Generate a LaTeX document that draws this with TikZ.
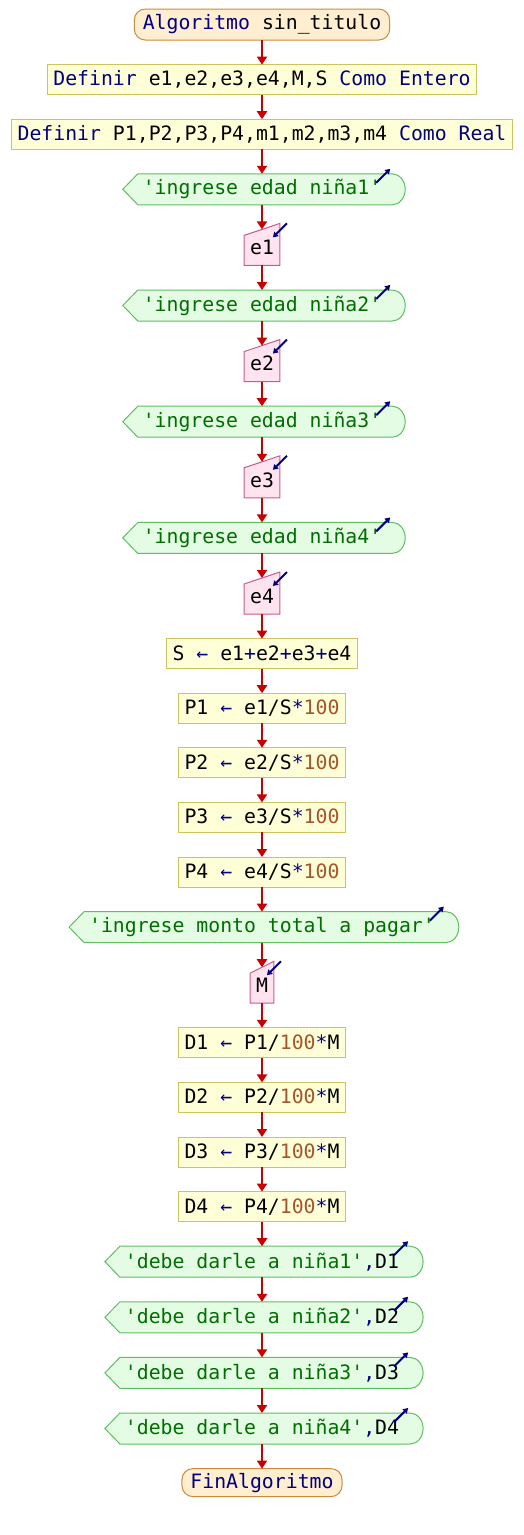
\documentclass[tikz,border=0pt]{standalone}
\usepackage{fontspec}
\setmonofont{DejaVu Sans Mono}
\usepackage{tikz}
\usetikzlibrary{arrows.meta, positioning, backgrounds}
\usepackage{xcolor}
\definecolor{kwnavy}{RGB}{0,0,128}
\definecolor{numbrown}{RGB}{165,85,45}
\definecolor{strgreen}{RGB}{0,110,0}
\definecolor{flowred}{RGB}{200,0,0}
\definecolor{termfill}{RGB}{255,238,208}
\definecolor{termedge}{RGB}{200,140,60}
\definecolor{procfill}{RGB}{255,255,215}
\definecolor{procedge}{RGB}{205,195,95}
\definecolor{outfill}{RGB}{228,252,228}
\definecolor{outedge}{RGB}{95,190,95}
\definecolor{infill}{RGB}{255,228,240}
\definecolor{inedge}{RGB}{200,90,140}
\newcommand{\kw}[1]{\textcolor{kwnavy}{#1}}
\newcommand{\numtxt}[1]{\textcolor{numbrown}{#1}}
\newcommand{\strtxt}[1]{\textcolor{strgreen}{#1}}
\newcommand{\asg}{\kw{←}}

\begin{document}
\begin{tikzpicture}[
		base/.style={font=\ttfamily\fontsize{19.8}{22}\selectfont, inner xsep=6pt, inner ysep=0pt, outer sep=0pt, minimum height=30pt, line width=1pt},
		term/.style={base, draw=termedge, fill=termfill, rounded corners=11pt, minimum height=31pt, inner xsep=8.5pt},
		proc/.style={base, draw=procedge, fill=procfill},
		outnode/.style={base, inner xsep=0pt, minimum height=31pt},
		innode/.style={base, minimum height=36pt},
		outshape/.style={draw=outedge, fill=outfill, line width=1pt},
		inshape/.style={draw=inedge, fill=infill, line width=1pt},
		flow/.style={-{Triangle[width=10pt,length=8pt]}, line width=2pt, flowred},
		ioarrow/.style={-{Triangle[width=6pt,length=5pt]}, line width=2pt, kwnavy}
	]
	\useasboundingbox (0,0) rectangle (524pt,-1535pt);
	\node[term] (alg) at (262pt,-24.5pt) {\kw{Algoritmo} sin\_titulo};
	\node[proc, below=24.6pt of alg] (defent) {\kw{Definir} e1,e2,e3,e4,M,S \kw{Como Entero}};
	\node[proc, below=24.6pt of defent] (defreal) {\kw{Definir} P1,P2,P3,P4,m1,m2,m3,m4 \kw{Como Real}};
	\node[outnode, below=24.6pt of defreal] (out1) {\strtxt{'ingrese edad niña1'}};
	\node[innode, below=24.6pt of out1] (e1) {e1};
	\node[outnode, below=24.6pt of e1] (out2) {\strtxt{'ingrese edad niña2'}};
	\node[innode, below=24.6pt of out2] (e2) {e2};
	\node[outnode, below=24.6pt of e2] (out3) {\strtxt{'ingrese edad niña3'}};
	\node[innode, below=24.6pt of out3] (e3) {e3};
	\node[outnode, below=24.6pt of e3] (out4) {\strtxt{'ingrese edad niña4'}};
	\node[innode, below=24.6pt of out4] (e4) {e4};
	\node[proc, below=24.6pt of e4] (sum) {S \asg{} e1\kw{+}e2\kw{+}e3\kw{+}e4};
	\node[proc, below=24.6pt of sum] (p1) {P1 \asg{} e1/S\kw{*}\numtxt{100}};
	\node[proc, below=24.6pt of p1] (p2) {P2 \asg{} e2/S\kw{*}\numtxt{100}};
	\node[proc, below=24.6pt of p2] (p3) {P3 \asg{} e3/S\kw{*}\numtxt{100}};
	\node[proc, below=24.6pt of p3] (p4) {P4 \asg{} e4/S\kw{*}\numtxt{100}};
	\node[outnode, below=24.6pt of p4] (outm) {\strtxt{'ingrese monto total a pagar'}};
	\node[innode, below=24.6pt of outm] (m) {M};
	\node[proc, below=24.6pt of m] (d1) {D1 \asg{} P1/\numtxt{100}\kw{*}M};
	\node[proc, below=24.6pt of d1] (d2) {D2 \asg{} P2/\numtxt{100}\kw{*}M};
	\node[proc, below=24.6pt of d2] (d3) {D3 \asg{} P3/\numtxt{100}\kw{*}M};
	\node[proc, below=24.6pt of d3] (d4) {D4 \asg{} P4/\numtxt{100}\kw{*}M};
	\node[outnode, below=24.6pt of d4] (msg1) {\strtxt{'debe darle a niña1'}\kw{,}D1};
	\node[outnode, below=24.6pt of msg1] (msg2) {\strtxt{'debe darle a niña2'}\kw{,}D2};
	\node[outnode, below=24.6pt of msg2] (msg3) {\strtxt{'debe darle a niña3'}\kw{,}D3};
	\node[outnode, below=24.6pt of msg3] (msg4) {\strtxt{'debe darle a niña4'}\kw{,}D4};
	\node[term, below=24.6pt of msg4, minimum height=28pt] (fin) {\kw{FinAlgoritmo}};
	% shapes for input/output blocks
	\begin{scope}[on background layer]
		\foreach \n in {out1,out2,out3,out4,outm,msg1,msg2,msg3,msg4}
			\path[outshape] ([xshift=-20pt]\n.west) -- ([xshift=-5pt]\n.north west) -- ([xshift=11pt]\n.north east)
				arc[start angle=90, end angle=-90, x radius=13pt, y radius=15.5pt] -- ([xshift=-5pt]\n.south west) -- cycle;
		\foreach \n in {e1,e2,e3,e4,m}
			\path[inshape] (\n.south west) -- ([yshift=-6pt]\n.north west) -- ([yshift=6pt]\n.north east) -- (\n.south east) -- cycle;
	\end{scope}
	\foreach \n in {out1,out2,out3,out4,outm,msg1,msg2,msg3,msg4}
		\draw[ioarrow] ([xshift=-5pt,yshift=-9pt]\n.north east) -- ([xshift=9pt,yshift=5pt]\n.north east);
	\foreach \n in {e1,e2,e3,e4,m}
		\draw[ioarrow] ([xshift=7pt,yshift=6pt]\n.north east) -- ([xshift=-7pt,yshift=-8pt]\n.north east);
	% connectors
	\foreach \a/\b in {alg/defent, defent/defreal, defreal/out1, out1/e1, e1/out2, out2/e2, e2/out3, out3/e3, e3/out4, out4/e4,
			e4/sum, sum/p1, p1/p2, p2/p3, p3/p4, p4/outm, outm/m, m/d1, d1/d2, d2/d3, d3/d4,
			d4/msg1, msg1/msg2, msg2/msg3, msg3/msg4, msg4/fin}
		\draw[flow] (\a) -- (\b);
\end{tikzpicture}
\end{document}
